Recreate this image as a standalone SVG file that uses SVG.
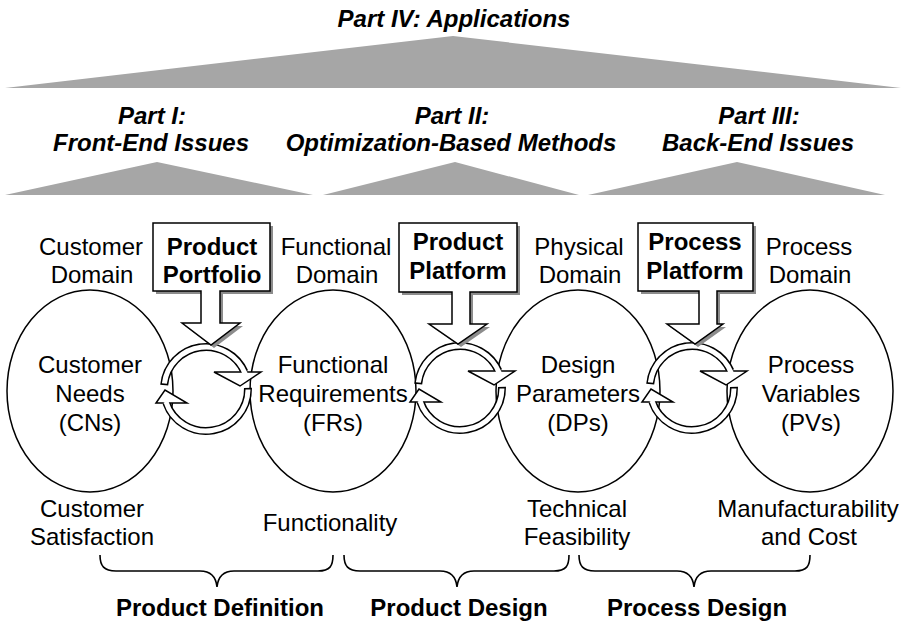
<svg xmlns="http://www.w3.org/2000/svg" xmlns:xlink="http://www.w3.org/1999/xlink" width="907" height="622" viewBox="0 0 907 622">
<style>
  .t{font-family:"Liberation Sans",Arial,sans-serif;font-size:24px;fill:#000;text-anchor:middle}
  .b{font-weight:bold}
  .bi{font-weight:bold;font-style:italic}
  .tri{fill:#a6a6a6;stroke:none}
  .ell{fill:none;stroke:#000;stroke-width:1.5}
  .call{fill:#fff;stroke:#000;stroke-width:1.5}
  .shadow{fill:#8c8c8c}
  .bandB{fill:none;stroke:#000;stroke-width:8}
  .bandW{fill:none;stroke:#fff;stroke-width:5}
  .head{fill:#fff;stroke:#000;stroke-width:1.5;stroke-linejoin:miter}
  .brace{fill:none;stroke:#000;stroke-width:1.6}
</style>
<defs>
  <g id="cycle">
    <path class="bandB" d="M-41.81,-3.95 A42,42 0 0 1 38.40,-17.02"/>
    <path class="bandB" d="M41.99,-1.03 A42,42 0 0 1 -39.59,14.02"/>
    <polygon class="head" points="8,-17 55,-17 34,-3"/>
    <polygon class="head" points="-50,14 -19,14 -41,1"/>
    <path class="bandW" d="M-41.64,-5.48 A42,42 0 0 1 39.21,-15.05"/>
    <path class="bandW" d="M42.0,0.51 A42,42 0 0 1 -40.06,12.63"/>
  </g>
</defs>
<rect width="907" height="622" fill="#fff"/>

<g id="part4">
  <polygon class="tri" points="5,88 901,88 453,36"/>
  <text class="t bi" x="454" y="27">Part IV: Applications</text>
</g>
<g id="part1">
  <text class="t bi" x="152" y="124">Part I:</text>
  <text class="t bi" x="151" y="151">Front-End Issues</text>
  <polygon class="tri" points="5,195 313,195 157,162"/>
</g>
<g id="part2">
  <text class="t bi" x="452" y="124">Part II:</text>
  <text class="t bi" x="451" y="151">Optimization-Based Methods</text>
  <polygon class="tri" points="323,195 579,195 455,162"/>
</g>
<g id="part3">
  <text class="t bi" x="759" y="124">Part III:</text>
  <text class="t bi" x="758" y="151">Back-End Issues</text>
  <polygon class="tri" points="588,195 885,195 737,162"/>
</g>

<g id="customer-domain">
  <text class="t" x="91" y="255">Customer</text>
  <text class="t" x="92" y="283">Domain</text>
  <ellipse class="ell" cx="90" cy="391" rx="83" ry="101"/>
  <text class="t" x="90" y="373">Customer</text>
  <text class="t" x="90" y="402">Needs</text>
  <text class="t" x="90" y="431">(CNs)</text>
  <text class="t" x="92" y="517">Customer</text>
  <text class="t" x="92" y="545">Satisfaction</text>
</g>
<g id="functional-domain">
  <text class="t" x="336" y="255">Functional</text>
  <text class="t" x="337" y="283">Domain</text>
  <ellipse class="ell" cx="333" cy="391" rx="83" ry="101"/>
  <text class="t" x="333" y="373">Functional</text>
  <text class="t" x="333" y="402">Requirements</text>
  <text class="t" x="333" y="431">(FRs)</text>
  <text class="t" x="330" y="531">Functionality</text>
</g>
<g id="physical-domain">
  <text class="t" x="579" y="255">Physical</text>
  <text class="t" x="580" y="283">Domain</text>
  <ellipse class="ell" cx="578" cy="391" rx="82" ry="101"/>
  <text class="t" x="578" y="373">Design</text>
  <text class="t" x="578" y="402">Parameters</text>
  <text class="t" x="578" y="431">(DPs)</text>
  <text class="t" x="577" y="517">Technical</text>
  <text class="t" x="577" y="545">Feasibility</text>
</g>
<g id="process-domain">
  <text class="t" x="809" y="255">Process</text>
  <text class="t" x="810" y="283">Domain</text>
  <ellipse class="ell" cx="810" cy="391" rx="83" ry="101"/>
  <text class="t" x="811" y="373">Process</text>
  <text class="t" x="811" y="402">Variables</text>
  <text class="t" x="811" y="431">(PVs)</text>
  <text class="t" x="808" y="517">Manufacturability</text>
  <text class="t" x="809" y="545">and Cost</text>
</g>

<g id="connectors">
  <use xlink:href="#cycle" transform="translate(206,389)"/>
  <use xlink:href="#cycle" transform="translate(460,388)"/>
  <use xlink:href="#cycle" transform="translate(692,388)"/>
  <path class="brace" d="M100,555 C100,566 104,571 116,571 H200 C211,571 216,577 217,587 C218,577 223,571 234,571 H318 C330,571 333,566 333,555"/>
  <path class="brace" d="M344,555 C344,566 348,571 360,571 H440 C451,571 456,577 457,587 C458,577 463,571 474,571 H554 C566,571 569,566 569,555"/>
  <path class="brace" d="M579,555 C579,566 583,571 595,571 H677 C688,571 693,577 694,587 C695,577 700,571 711,571 H795 C807,571 810,566 810,555"/>
</g>

<g id="product-portfolio">
  <path class="shadow" transform="translate(3,3)" d="M153,223 H270 V291 H220 V323 H240 L211,345 L182,323 H201 V291 H153 Z"/>
  <path class="call" d="M153,223 H270 V291 H220 V323 H240 L211,345 L182,323 H201 V291 H153 Z"/>
  <text class="t b" x="212" y="255">Product</text>
  <text class="t b" x="212" y="283">Portfolio</text>
</g>
<g id="product-platform">
  <path class="shadow" transform="translate(3,3)" d="M399,223 H517 V292 H470 V324 H487 L458,344 L429,324 H452 V292 H399 Z"/>
  <path class="call" d="M399,223 H517 V292 H470 V324 H487 L458,344 L429,324 H452 V292 H399 Z"/>
  <text class="t b" x="458" y="250">Product</text>
  <text class="t b" x="458" y="279">Platform</text>
</g>
<g id="process-platform">
  <path class="shadow" transform="translate(3,3)" d="M638,223 H753 V291 H717 V324 H723 L695,344 L667,324 H699 V291 H638 Z"/>
  <path class="call" d="M638,223 H753 V291 H717 V324 H723 L695,344 L667,324 H699 V291 H638 Z"/>
  <text class="t b" x="695" y="250">Process</text>
  <text class="t b" x="695" y="279">Platform</text>
</g>

<g id="phase-labels">
  <text class="t b" x="220" y="616">Product Definition</text>
  <text class="t b" x="459" y="616">Product Design</text>
  <text class="t b" x="697" y="616">Process Design</text>
</g>
</svg>
